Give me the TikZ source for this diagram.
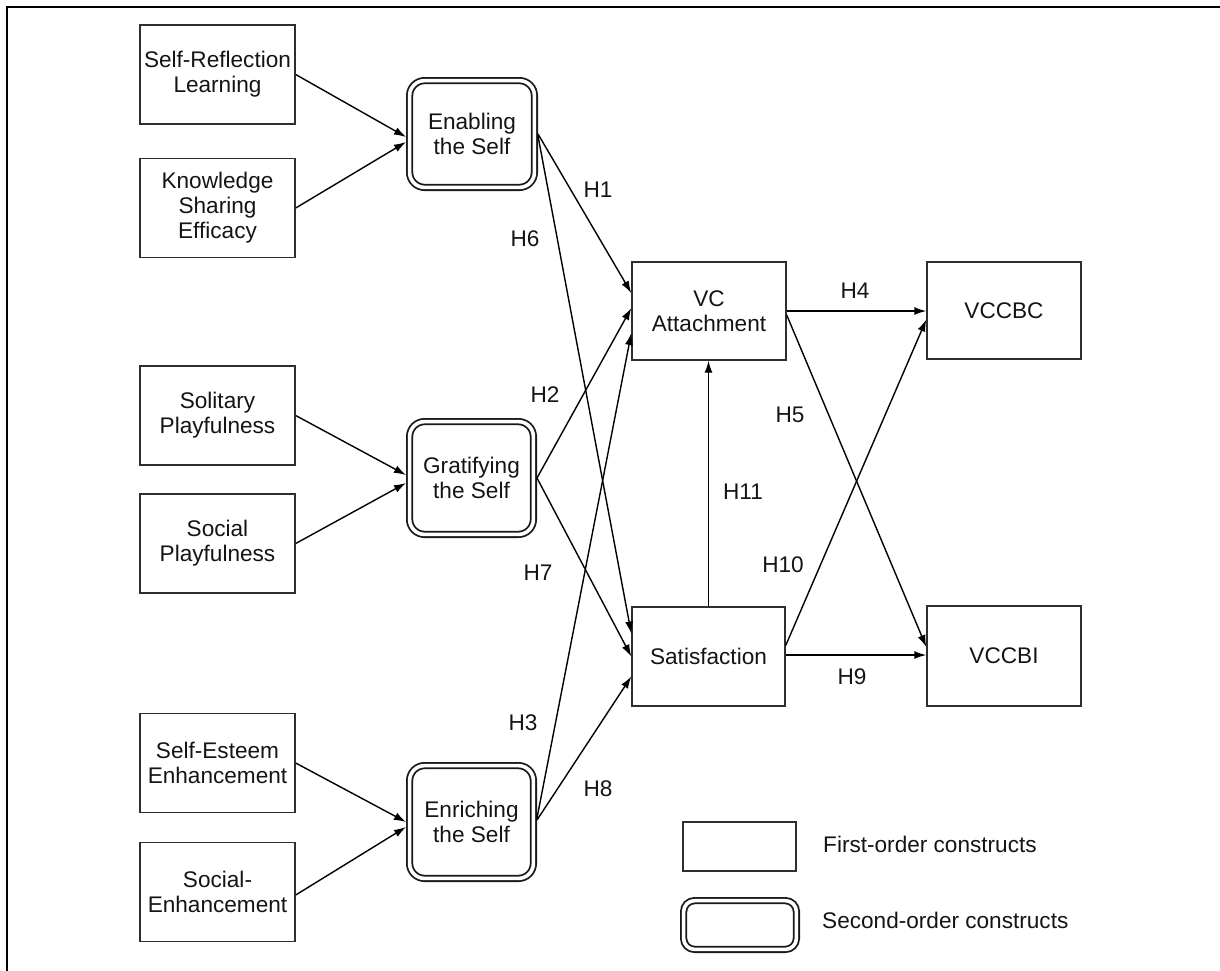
\documentclass[tikz,border=0pt]{standalone}
\usepackage{fontspec}
\setmainfont{Liberation Sans}
\usetikzlibrary{arrows.meta,calc}
\begin{document}
\begin{tikzpicture}[x=1pt,y=-1pt,
  every node/.style={font=\fontsize{22.6}{25}\selectfont, text=black!92, inner sep=0pt},
  fbox/.style={draw=black!82, line width=1.4pt, rectangle, minimum width=155pt, minimum height=99pt, align=center},
  sbox/.style={draw=black!90, line width=1.8pt, double, double distance=3.6pt, rounded corners=15pt, align=center, outer sep=3.6pt},
  arr/.style={-{Latex[length=12pt,width=8pt]}, line width=1.4pt, draw=black},
  hlbl/.style={inner sep=0pt}
]
\useasboundingbox (0,0) rectangle (1220,970);
% frame
\draw[line width=2.5pt, black] (1222,7) -- (7,7) -- (7,972);

% first-order boxes (left)
\node[fbox] (sr)   at (217.5,74.5) {Self-Reflection\\Learning};
\node[fbox] (kse)  at (217.5,208)  {Knowledge\\Sharing\\Efficacy};
\node[fbox] (sp)   at (217.5,415.5){Solitary\\Playfulness};
\node[fbox] (socp) at (217.5,543.5){Social\\Playfulness};
\node[fbox] (see)  at (217.5,763)  {Self-Esteem\\Enhancement};
\node[fbox] (soce) at (217.5,892)  {Social-\\Enhancement};

% second-order constructs
\node[sbox, minimum width=124.8pt, minimum height=106.8pt] (ena) at (472,134)   {Enabling\\the Self};
\node[sbox, minimum width=123.8pt, minimum height=112.8pt] (gra) at (471.5,478) {Gratifying\\the Self};
\node[sbox, minimum width=123.8pt, minimum height=112.8pt] (enr) at (471.5,822) {Enriching\\the Self};

% outcome boxes
\node[fbox, minimum width=154pt, minimum height=98pt]  (vc)    at (709,311)    {VC\\Attachment};
\node[fbox, minimum width=153pt, minimum height=99pt]  (sat)   at (708.5,656.5){Satisfaction};
\node[fbox, minimum width=154pt, minimum height=97pt]  (vccbc) at (1004,310.5) {VCCBC};
\node[fbox, minimum width=154pt, minimum height=100pt] (vccbi) at (1004,656)   {VCCBI};

% legend
\node[fbox, minimum width=113pt, minimum height=49pt] (lg1) at (739.5,846.5) {};
\node[sbox, minimum width=112.8pt, minimum height=48.8pt, rounded corners=11pt] (lg2) at (740,925) {};
\node[anchor=west] (lt1) at (823,844) {First-order constructs};
\node[anchor=west] (lt2) at (822,920) {Second-order constructs};

% arrows into second-order constructs
\draw[arr] (sr.east) -- ([yshift=-3pt]ena.west);
\draw[arr] (kse.east) -- ([yshift=-8pt]ena.west);
\draw[arr] (sp.east) -- ([yshift=3pt]gra.west);
\draw[arr] (socp.east) -- ([yshift=-5pt]gra.west);
\draw[arr] (see.east) -- (enr.west);
\draw[arr] ([yshift=-3pt]soce.east) -- ([yshift=-5pt]enr.west);

% hypotheses
\draw[arr] (ena.east) -- ([yshift=18pt]vc.west);
\draw[arr] ([yshift=-2pt]ena.east) -- ([yshift=23pt]sat.west);
\draw[arr] (gra.east) -- ([yshift=3pt]vc.west);
\draw[arr] (gra.east) -- (sat.west);
\draw[arr] ([yshift=4pt]enr.east) -- ([yshift=-22pt]vc.west);
\draw[arr] ([yshift=2pt]enr.east) -- ([yshift=-20pt]sat.west);
\draw[arr] (vc.east) -- (vc.east -| vccbc.west);
\draw[arr] ([yshift=-4pt]vc.east) -- ([yshift=9pt]vccbi.west);
\draw[arr] ([yshift=11pt]sat.east) -- ([yshift=-9pt]vccbc.west);
\draw[arr] ([yshift=1.5pt]sat.east) -- ([yshift=1.5pt]sat.east -| vccbi.west);
\draw[arr] (sat.north) -- (sat.north |- vc.south);

% labels
\node[hlbl] (h1)  at (598,190)   {H1};
\node[hlbl] (h6)  at (525,238.5) {H6};
\node[hlbl] (h2)  at (545,395)   {H2};
\node[hlbl] (h7)  at (538,573)   {H7};
\node[hlbl] (h3)  at (523,723)   {H3};
\node[hlbl] (h8)  at (598,789)   {H8};
\node[hlbl] (h4)  at (855,291)   {H4};
\node[hlbl] (h5)  at (790,415)   {H5};
\node[hlbl] (h11) at (743,492)   {H11};
\node[hlbl] (h10) at (783,565)   {H10};
\node[hlbl] (h9)  at (852,677)   {H9};
\end{tikzpicture}
\end{document}
